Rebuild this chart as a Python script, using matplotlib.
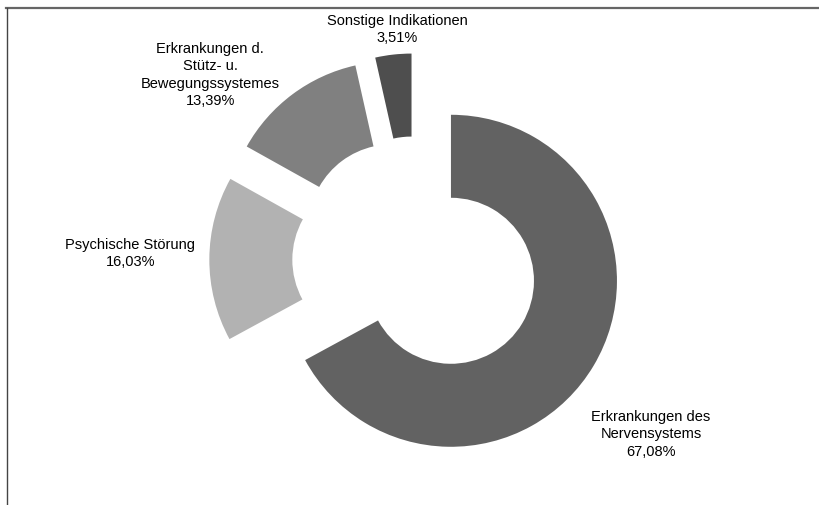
import matplotlib
matplotlib.use('Agg')
import matplotlib.pyplot as plt
import matplotlib as mpl
from matplotlib.lines import Line2D

# Indikationen, Anteile in Prozent (im Uhrzeigersinn ab 12 Uhr)
labels = ['Erkrankungen des\nNervensystems',
          'Psychische Störung',
          'Erkrankungen d.\nStütz- u.\nBewegungssystemes',
          'Sonstige Indikationen']
shares = [67.08, 16.03, 13.39, 3.51]
colors = ['#626262', '#b2b2b2', '#808080', '#4e4e4e']

# Textpositionen relativ zur Ringmitte (Radius = 1)
label_pos = [(1.415, -1.05), (-1.72, 0.04), (-1.24, 1.115), (-0.115, 1.39)]


def init():
    mpl.rc('font', family=['Liberation Sans', 'DejaVu Sans'], size=10.5)
    fig = plt.figure(figsize=(8.19, 5.05), dpi=100)
    ax = fig.add_axes([0, 0, 1, 1])
    return fig, ax


def plot():
    fig, ax = init()
    ax.pie(shares, colors=colors, startangle=90, counterclock=False,
           explode=[0.245] * len(shares), radius=1.0,
           wedgeprops={'width': 0.5, 'linewidth': 0})
    for lab, val, (x, y) in zip(labels, shares, label_pos):
        txt = lab + '\n' + ('%.2f%%' % val).replace('.', ',')
        ax.text(x, y, txt, ha='center', va='center', color='black',
                linespacing=1.32)

    # 166 px pro Einheit, Mitte bei (416, 260) px
    ax.set_xlim(-416 / 166, (819 - 416) / 166)
    ax.set_ylim(-(505 - 260) / 166, 260 / 166)
    ax.set_aspect('auto')
    ax.axis('off')

    # Rahmen (oben und links)
    fig.add_artist(Line2D([6 / 819, 1], [1 - 8 / 505, 1 - 8 / 505],
                          transform=fig.transFigure, color='#666666', lw=1.6))
    fig.add_artist(Line2D([7 / 819, 7 / 819], [0, 1 - 8 / 505],
                          transform=fig.transFigure, color='#444444', lw=1.0))

    fig.savefig('out.png', dpi=100)


if __name__ == '__main__':
    plot()
